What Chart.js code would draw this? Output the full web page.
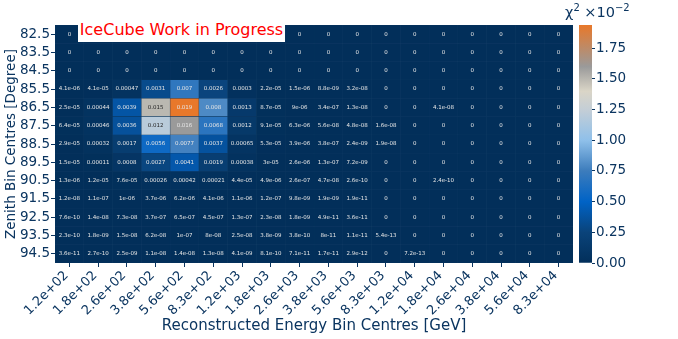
<!DOCTYPE html>
<html>
<head>
<meta charset="utf-8">
<script src="https://cdn.jsdelivr.net/npm/chart.js@4.4.1/dist/chart.umd.min.js"></script>
<style>
  body { margin: 0; background: #fff; font-family: 'DejaVu Sans', sans-serif; }
  #wrap { position: relative; width: 678px; height: 339px; }
  canvas { position: absolute; top: 0; }
  #tag { position: absolute; left: 78px; top: 17px; width: 207px; height: 25px; background: #fff;
         color: #ff0000; font-size: 16px; line-height: 25px; text-align: center; white-space: nowrap; }
  #cblabel { position: absolute; left: 565px; top: 2px; color: #0b3560; font-size: 14.5px; white-space: nowrap; }
  #cblabel sup { font-size: 10px; }
</style>
</head>
<body>
<div id="wrap">
  <canvas id="heat" width="678" height="339" style="left:0"></canvas>
  <canvas id="cbar" width="118" height="339" style="left:560px"></canvas>
  <div id="tag">IceCube Work in Progress</div>
  <div id="cblabel">χ<sup>2</sup> ×10<sup>−2</sup></div>
</div>
<script>
/* ── data ── */
const energies = ['1.2e+02', '1.8e+02', '2.6e+02', '3.8e+02', '5.6e+02', '8.3e+02', '1.2e+03', '1.8e+03', '2.6e+03',
  '3.8e+03', '5.6e+03', '8.3e+03', '1.2e+04', '1.8e+04', '2.6e+04', '3.8e+04', '5.6e+04', '8.3e+04'];
const zeniths = ['82.5', '83.5', '84.5', '85.5', '86.5', '87.5', '88.5', '89.5', '90.5', '91.5', '92.5', '93.5', '94.5'];

const z825 = [0, 0, 0, 0, 0, 0, 0, 0, 0, 0, 0, 0, 0, 0, 0, 0, 0, 0];
const z835 = [0, 0, 0, 0, 0, 0, 0, 0, 0, 0, 0, 0, 0, 0, 0, 0, 0, 0];
const z845 = [0, 0, 0, 0, 0, 0, 0, 0, 0, 0, 0, 0, 0, 0, 0, 0, 0, 0];
const z855 = [4.1e-06, 4.1e-05, 0.00047, 0.0031, 0.007, 0.0026, 0.0003, 2.2e-05, 1.5e-06, 8.8e-09, 3.2e-08, 0, 0, 0, 0, 0, 0, 0];
const z865 = [2.5e-05, 0.00044, 0.0039, 0.015, 0.0194, 0.008, 0.0013, 8.7e-05, 9e-06, 3.4e-07, 1.3e-08, 0, 0, 4.1e-08, 0, 0, 0, 0];
const z875 = [6.4e-05, 0.00046, 0.0036, 0.012, 0.016, 0.0068, 0.0012, 9.1e-05, 6.3e-06, 5.6e-08, 4.8e-08, 1.6e-08, 0, 0, 0, 0, 0, 0];
const z885 = [2.9e-05, 0.00032, 0.0017, 0.0056, 0.0077, 0.0037, 0.00065, 5.3e-05, 3.9e-06, 3.8e-07, 2.4e-09, 1.9e-08, 0, 0, 0, 0, 0, 0];
const z895 = [1.5e-05, 0.00011, 0.0008, 0.0027, 0.0041, 0.0019, 0.00038, 3e-05, 2.6e-06, 1.3e-07, 7.2e-09, 0, 0, 0, 0, 0, 0, 0];
const z905 = [1.3e-06, 1.2e-05, 7.6e-05, 0.00026, 0.00042, 0.00021, 4.4e-05, 4.9e-06, 2.6e-07, 4.7e-08, 2.6e-10, 0, 0, 2.4e-10, 0, 0, 0, 0];
const z915 = [1.2e-08, 1.1e-07, 1e-06, 3.7e-06, 6.2e-06, 4.1e-06, 1.1e-06, 1.2e-07, 9.8e-09, 1.9e-09, 1.9e-11, 0, 0, 0, 0, 0, 0, 0];
const z925 = [7.6e-10, 1.4e-08, 7.3e-08, 3.7e-07, 6.5e-07, 4.5e-07, 1.3e-07, 2.3e-08, 1.8e-09, 4.9e-11, 3.6e-11, 0, 0, 0, 0, 0, 0, 0];
const z935 = [2.3e-10, 1.8e-09, 1.5e-08, 6.2e-08, 1e-07, 8e-08, 2.5e-08, 3.8e-09, 3.8e-10, 8e-11, 1.1e-11, 5.4e-13, 0, 0, 0, 0, 0, 0];
const z945 = [3.6e-11, 2.7e-10, 2.5e-09, 1.1e-08, 1.4e-08, 1.3e-08, 4.1e-09, 8.1e-10, 7.1e-11, 1.7e-11, 2.9e-12, 0, 7.2e-13, 0, 0, 0, 0, 0];
const chi2 = [z825, z835, z845, z855, z865, z875, z885, z895, z905, z915, z925, z935, z945];

const cbTicks = [0, 0.25, 0.5, 0.75, 1.0, 1.25, 1.5, 1.75];
const cbMax = 1.94; // colour scale top, in units of 1e-2

/* ── colour map (units of 1e-2) ── */
const cmap = [
  [0, '#022f5a'], [0.25, '#0a437a'], [0.5, '#0063c6'], [0.75, '#3c7cbc'], [1.0, '#8fc0ea'],
  [1.25, '#c4ced6'], [1.4, '#dad5c7'], [1.6, '#9a9a9a'], [1.94, '#e8782a']
];
const INK = '#0b3560';
const FONT = 'DejaVu Sans';

const hex = h => [1, 3, 5].map(i => parseInt(h.slice(i, i + 2), 16));
function colorFor(v) {
  const t = Math.min(v * 100, cbMax);
  for (let i = 1; i < cmap.length; i++) {
    if (t <= cmap[i][0]) {
      const [v0, c0] = cmap[i - 1], [v1, c1] = cmap[i];
      const f = (t - v0) / (v1 - v0), a = hex(c0), b = hex(c1);
      return `rgb(${a.map((x, k) => Math.round(x + (b[k] - x) * f)).join(',')})`;
    }
  }
  return cmap[cmap.length - 1][1];
}
function isLight(v) {
  const [r, g, b] = colorFor(v).match(/\d+/g).map(Number);
  return (0.299 * r + 0.587 * g + 0.114 * b) / 255 > 0.62;
}

/* python-like '.2g' */
function fmt(v) {
  if (v === 0) return '0';
  let [m, e] = v.toExponential(1).split('e');
  const ex = parseInt(e, 10);
  if (ex < -4 || ex >= 2) {
    m = String(parseFloat(m));
    return m + 'e' + (ex < 0 ? '-' : '+') + String(Math.abs(ex)).padStart(2, '0');
  }
  return String(Number(v.toPrecision(2)));
}

/* dark backing so sub-pixel seams between cells don't show white */
const backing = {
  id: 'backing',
  beforeDatasetsDraw(chart) {
    const { ctx, chartArea: a } = chart;
    ctx.save();
    ctx.fillStyle = cmap[0][1];
    ctx.fillRect(a.left, a.top, a.right - a.left, a.bottom - a.top);
    ctx.restore();
  }
};

/* cell annotations */
const annotate = {
  id: 'annotate',
  afterDatasetsDraw(chart) {
    const ctx = chart.ctx;
    ctx.save();
    ctx.font = `5.5px "${FONT}"`;
    ctx.textAlign = 'center'; ctx.textBaseline = 'middle';
    chart.data.datasets.forEach((ds, r) => {
      chart.getDatasetMeta(r).data.forEach((bar, c) => {
        const p = bar.getProps(['x', 'y', 'base'], true);
        const v = chi2[r][c];
        ctx.fillStyle = isLight(v) ? '#262626' : '#e6e6e6';
        ctx.fillText(fmt(v), p.x, (p.y + p.base) / 2);
      });
    });
    ctx.restore();
  }
};

const tickGrid = { display: true, drawOnChartArea: false, drawTicks: true, tickLength: 4, tickColor: INK, offset: false };

new Chart(document.getElementById('heat'), {
  type: 'bar',
  data: {
    labels: energies,
    datasets: chi2.map((row, r) => ({
      label: zeniths[r],
      data: row.map(() => [r, r + 1]),
      backgroundColor: row.map(colorFor),
      borderColor: 'rgba(255,255,255,0.045)', borderWidth: 0.5, borderSkipped: false,
      barPercentage: 1, categoryPercentage: 1, grouped: false,
    }))
  },
  options: {
    responsive: false, animation: false,
    layout: { padding: { top: 25, right: 105, left: 0, bottom: 0 } },
    plugins: { legend: { display: false }, tooltip: { enabled: false } },
    scales: {
      x: {
        type: 'category', offset: true, grid: tickGrid, border: { display: false },
        ticks: { autoSkip: false, minRotation: 45, maxRotation: 45, padding: 1, labelOffset: -3,
          color: INK, font: { family: FONT, size: 13 } },
        title: { display: true, text: 'Reconstructed Energy Bin Centres [GeV]', color: INK,
          font: { family: FONT, size: 15 }, padding: { top: 0, bottom: 4 } },
        afterFit: s => { s.height = 76; }
      },
      y: {
        type: 'linear', min: 0, max: 13, reverse: true, grid: tickGrid, border: { display: false },
        afterBuildTicks: s => { s.ticks = zeniths.map((z, i) => ({ value: i + 0.5 })); },
        ticks: { autoSkip: false, callback: (v, i) => zeniths[i], padding: 1, color: INK, font: { family: FONT, size: 13.5 } },
        title: { display: true, text: 'Zenith Bin Centres [Degree]', color: INK,
          font: { family: FONT, size: 13.5 }, padding: { top: 3, bottom: 0 } },
        afterFit: s => { s.width = 55; }
      }
    }
  },
  plugins: [backing, annotate]
});

/* colour bar */
new Chart(document.getElementById('cbar'), {
  type: 'bar',
  data: {
    labels: [''],
    datasets: [{
      data: [[0, cbMax]], barPercentage: 1, categoryPercentage: 1, borderWidth: 0,
      backgroundColor: c => {
        const ch = c.chart;
        if (!ch.chartArea) return cmap[0][1];
        const ys = ch.scales.y;
        const g = ch.ctx.createLinearGradient(0, ys.getPixelForValue(0), 0, ys.getPixelForValue(cbMax));
        cmap.forEach(([v, col]) => g.addColorStop(v / cbMax, col));
        return g;
      }
    }]
  },
  options: {
    responsive: false, animation: false,
    layout: { padding: { top: 25, bottom: 76, left: 19, right: 0 } },
    plugins: { legend: { display: false }, tooltip: { enabled: false } },
    scales: {
      x: { display: false },
      y: {
        position: 'right', min: 0, max: cbMax, border: { display: false },
        grid: { display: true, drawOnChartArea: false, drawTicks: true, tickLength: 3, tickColor: INK },
        afterBuildTicks: s => { s.ticks = cbTicks.map(v => ({ value: v })); },
        ticks: { autoSkip: false, callback: v => v.toFixed(2), padding: 1, color: INK, font: { family: FONT, size: 13.5 } },
        afterFit: s => { s.width = 86; }
      }
    }
  }
});
</script>
</body>
</html>
